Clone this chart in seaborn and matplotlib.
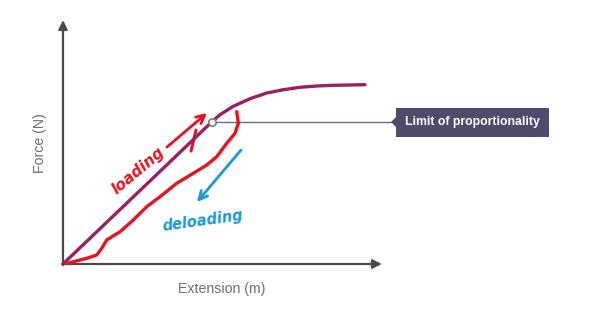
import matplotlib
matplotlib.use("Agg")
import matplotlib.pyplot as plt
import seaborn as sns
import pandas as pd
from matplotlib.patches import Rectangle, Polygon

# ---- data (extension, force in arbitrary units) ----
loading_ext = [0.0, 14.87, 15.7, 17.03, 18.7, 20.37, 22.03, 23.7, 25.37, 27.03, 30.2]
loading_force = [0.0, 14.2, 14.93, 15.77, 16.53, 17.1, 17.43, 17.67, 17.8, 17.87, 17.93]

unloading_ext = [17.37, 17.53, 17.2, 16.37, 15.37, 14.37, 13.03, 11.37, 9.7, 8.37, 7.03,
                 5.7, 4.37, 3.87, 3.37, 2.37, 1.03, 0.37]
unloading_force = [15.23, 14.07, 13.07, 12.07, 10.73, 9.9, 9.07, 8.07, 6.73, 5.73, 4.4,
                   3.23, 2.4, 1.57, 0.9, 0.57, 0.23, 0.07]

limit_point = (14.87, 14.2)
limit_label = "Limit of proportionality"
x_label = "Extension (m)"
y_label = "Force (N)"
loading_text = "loading"
deloading_text = "deloading"

sns.set_theme(style="white")
plt.rcParams['font.family'] = ['Liberation Sans', 'DejaVu Sans']

fig = plt.figure(figsize=(5.9, 3.13), dpi=100)
ax = fig.add_axes([0, 0, 1, 1])
ax.set_xlim(-6.3, 52.7)
ax.set_ylim(-4.9, 26.4)
ax.axis("off")

df_load = pd.DataFrame({"ext": loading_ext, "force": loading_force})
df_unload = pd.DataFrame({"ext": unloading_ext, "force": unloading_force})

# axes with arrows
axis_col = "#4a4a4a"
astyle = "-|>,head_length=0.45,head_width=0.22"
ax.annotate("", xy=(0, 24.4), xytext=(0, -0.1),
            arrowprops=dict(arrowstyle=astyle, color=axis_col, lw=1.6, shrinkA=0, shrinkB=0))
ax.annotate("", xy=(31.9, 0), xytext=(-0.1, 0),
            arrowprops=dict(arrowstyle=astyle, color=axis_col, lw=1.6, shrinkA=0, shrinkB=0))

# main curve
sns.lineplot(data=df_load, x="ext", y="force", ax=ax, sort=False, color="#9a2160", lw=2.4,
             estimator=None, zorder=4, solid_joinstyle="round", solid_capstyle="round")

# unloading hand-drawn curve
sns.lineplot(data=df_unload, x="ext", y="force", ax=ax, sort=False, color="#e8131f", lw=2.4,
             estimator=None, zorder=5, solid_joinstyle="round", solid_capstyle="round")

# limit of proportionality line and box
ax.plot([limit_point[0], 32.9], [limit_point[1], limit_point[1]], color="#6b6a88", lw=1.0, zorder=3)
ax.scatter([limit_point[0]], [limit_point[1]], s=28, facecolor="white", edgecolor="#7a7890",
           linewidth=1.2, zorder=6)
box_col = "#4e4b6c"
ax.add_patch(Rectangle((33.3, 12.7), 15.3, 2.9, facecolor=box_col, edgecolor="none", zorder=4))
ax.add_patch(Polygon([[33.35, 14.75], [32.8, 14.2], [33.35, 13.65]], closed=True,
                     facecolor=box_col, edgecolor="none", zorder=4))
ax.text(40.95, 14.15, limit_label, color="white", fontsize=8.8, fontweight="bold",
        ha="center", va="center", zorder=5)

# axis labels
ax.text(15.9, -2.5, x_label, color="#6e6e6e", fontsize=10.2, ha="center", va="center")
ax.text(-2.3, 12.1, y_label, color="#6e6e6e", fontsize=10.2, ha="center", va="center", rotation=90)

# handwritten annotations
red = "#e8131f"
blue = "#1a9ad6"
ax.annotate("", xy=(14.4, 15.1), xytext=(10.4, 11.7),
            arrowprops=dict(arrowstyle="->,head_length=0.5,head_width=0.25", color=red, lw=2.0,
                            shrinkA=0, shrinkB=0))
ax.plot([13.3, 12.8], [13.4, 11.3], color=red, lw=2.2, solid_capstyle="round")
ax.text(7.5, 9.3, loading_text, color=red, fontsize=11, fontweight="bold", fontstyle="italic",
        rotation=40, ha="center", va="center", family=["DejaVu Sans"])
ax.annotate("", xy=(13.4, 6.2), xytext=(17.8, 11.4),
            arrowprops=dict(arrowstyle="->,head_length=0.5,head_width=0.25", color=blue, lw=2.0,
                            shrinkA=0, shrinkB=0))
ax.text(14.0, 4.3, deloading_text, color=blue, fontsize=10.5, fontweight="bold", fontstyle="italic",
        rotation=8, ha="center", va="center", family=["DejaVu Sans"])

fig.savefig("out.png", dpi=100)
